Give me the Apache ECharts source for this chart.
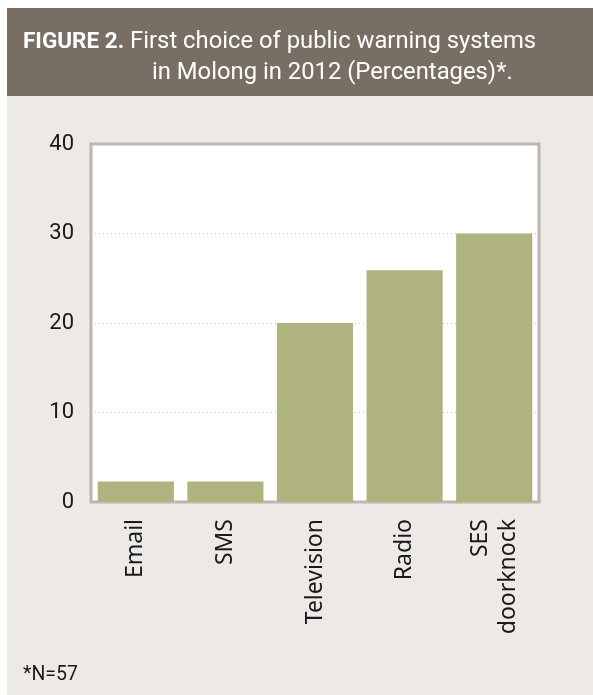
<!DOCTYPE html>
<html>
<head>
<meta charset="utf-8">
<script src="https://cdn.jsdelivr.net/npm/echarts@6/dist/echarts.min.js"></script>
<style>
  html, body { margin: 0; padding: 0; background: #fff; }
  #main { width: 593px; height: 695px; }
</style>
</head>
<body>
<div id="main"></div>
<script>
var myChart = echarts.init(document.getElementById('main'));

// data
var categories = ['Email', 'SMS', 'Television', 'Radio', 'SES\ndoorknock'];
var percentages = [2.3, 2.3, 20, 25.9, 30];
var yTicks = [0, 10, 20, 30, 40];

var option = {
    backgroundColor: '#ffffff',
    animation: false,
    graphic: [
        // panel background
        {
            type: 'rect',
            shape: {x: 7, y: 8, width: 586, height: 687},
            style: {fill: '#ece9e6'},
            z: -10
        },
        // header band
        {
            type: 'rect',
            shape: {x: 7, y: 8, width: 586, height: 88},
            style: {fill: '#786e64'},
            z: -9
        },
        {
            type: 'text',
            left: 23,
            top: 30,
            style: {
                text: '{b|FIGURE 2.} First choice of public warning systems',
                fill: '#ffffff',
                font: '23.8px Roboto',
                rich: {
                    b: {fontWeight: 'bold', fontSize: 22.5, fill: '#ffffff', fontFamily: 'Roboto'}
                }
            }
        },
        {
            type: 'text',
            left: 152,
            top: 61,
            style: {
                text: 'in Molong in 2012 (Percentages)*.',
                fill: '#ffffff',
                font: '23.8px Roboto'
            }
        },
        // footnote
        {
            type: 'text',
            left: 23,
            top: 665,
            style: {
                text: '*N=57',
                fill: '#1a1a1a',
                font: '19.5px Roboto'
            }
        }
    ],
    grid: {
        left: 91,
        right: 54,
        top: 144,
        bottom: 193,
        show: true,
        backgroundColor: '#ffffff',
        borderColor: '#bdb4ae',
        borderWidth: 3
    },
    xAxis: {
        type: 'category',
        data: categories,
        axisLine: {show: false},
        axisTick: {show: false},
        axisLabel: {
            rotate: 90,
            margin: 17,
            interval: 0,
            color: '#1a1a1a',
            fontFamily: 'Noto Sans',
            fontSize: 23,
            lineHeight: 28
        }
    },
    yAxis: {
        type: 'value',
        min: yTicks[0],
        max: yTicks[yTicks.length - 1],
        interval: 10,
        axisLine: {show: false},
        axisTick: {show: false},
        axisLabel: {
            margin: 17,
            color: '#1a1a1a',
            fontFamily: 'Roboto',
            fontSize: 22
        },
        splitLine: {
            show: true,
            lineStyle: {
                color: '#c4c4c4',
                type: [1, 3],
                width: 1
            }
        }
    },
    series: [
        {
            type: 'bar',
            data: percentages,
            barCategoryGap: '15%',
            itemStyle: {color: '#afb47f'},
            z: 3
        }
    ]
};
myChart.setOption(option);
</script>
</body>
</html>
